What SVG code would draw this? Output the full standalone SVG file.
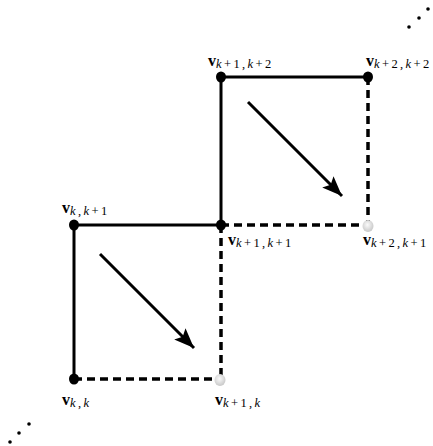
<svg xmlns="http://www.w3.org/2000/svg" width="433" height="446" viewBox="0 0 433 446">
<style>
.solid{stroke:#000;stroke-width:3;fill:none}
.dash{stroke:#000;stroke-width:3.5;fill:none;stroke-dasharray:8 5}
.arr{stroke:#000;stroke-width:3;fill:none}
.lbl{font-family:"Liberation Serif",serif;fill:#000}
.v{font-weight:bold;font-size:16px}
.s{font-size:12.5px;letter-spacing:2.4px}
.i{font-style:italic}
.bn{fill:#000}
.gn{fill:url(#g)}
.dot{fill:#000}
</style>
<defs>
<radialGradient id="g" cx="0.45" cy="0.4" r="0.6">
<stop offset="0" stop-color="#fafafa"/>
<stop offset="1" stop-color="#c8c8c8"/>
</radialGradient>
<marker id="ah" markerUnits="userSpaceOnUse" markerWidth="22" markerHeight="18" refX="20" refY="8" orient="auto">
<path d="M0,0 L20,8 L0,16 L4,8 z" fill="#000"/>
</marker>
</defs>
<g id="connectors">
<path class="solid" d="M74,379 V225 H221 V77 H368"/>
<path class="dash" d="M74,379 H220"/>
<path class="dash" d="M221,225 V380"/>
<path class="dash" d="M221,225 H368"/>
<path class="dash" d="M368,77 V226"/>
<path class="arr" d="M100,254 L194,348" marker-end="url(#ah)"/>
<path class="arr" d="M248,102 L342,196" marker-end="url(#ah)"/>
</g>
<g id="n-kk"><ellipse class="bn" cx="74" cy="379" rx="5" ry="5.5"/>
<text class="lbl" x="62" y="405"><tspan class="v">v</tspan><tspan class="s i" dy="2">k</tspan><tspan class="s" dy="0">,</tspan><tspan class="s i">k</tspan></text></g>
<g id="n-k1k"><ellipse class="gn" cx="220" cy="380" rx="5.5" ry="6"/>
<text class="lbl" x="215" y="405"><tspan class="v">v</tspan><tspan class="s i" dy="2">k</tspan><tspan class="s">+1,</tspan><tspan class="s i">k</tspan></text></g>
<g id="n-kk1"><ellipse class="bn" cx="74" cy="225" rx="5" ry="5.5"/>
<text class="lbl" x="62" y="213"><tspan class="v">v</tspan><tspan class="s i" dy="2">k</tspan><tspan class="s">,</tspan><tspan class="s i">k</tspan><tspan class="s">+1</tspan></text></g>
<g id="n-k1k1"><ellipse class="bn" cx="221" cy="225" rx="5" ry="5.5"/>
<text class="lbl" x="228" y="245"><tspan class="v">v</tspan><tspan class="s i" dy="2">k</tspan><tspan class="s">+1,</tspan><tspan class="s i">k</tspan><tspan class="s">+1</tspan></text></g>
<g id="n-k2k1"><ellipse class="gn" cx="368" cy="226" rx="5.5" ry="6"/>
<text class="lbl" x="363" y="245"><tspan class="v">v</tspan><tspan class="s i" dy="2">k</tspan><tspan class="s">+2,</tspan><tspan class="s i">k</tspan><tspan class="s">+1</tspan></text></g>
<g id="n-k1k2"><ellipse class="bn" cx="221" cy="77" rx="5" ry="5.5"/>
<text class="lbl" x="208" y="66"><tspan class="v">v</tspan><tspan class="s i" dy="2">k</tspan><tspan class="s">+1,</tspan><tspan class="s i">k</tspan><tspan class="s">+2</tspan></text></g>
<g id="n-k2k2"><ellipse class="bn" cx="368" cy="77" rx="5" ry="5.5"/>
<text class="lbl" x="366" y="66"><tspan class="v">v</tspan><tspan class="s i" dy="2">k</tspan><tspan class="s">+2,</tspan><tspan class="s i">k</tspan><tspan class="s">+2</tspan></text></g>
<g id="dots-tr"><circle class="dot" cx="409" cy="27" r="1.8"/><circle class="dot" cx="419" cy="18" r="1.8"/><circle class="dot" cx="428" cy="9" r="1.8"/></g>
<g id="dots-bl"><circle class="dot" cx="10" cy="442" r="1.8"/><circle class="dot" cx="19" cy="433" r="1.8"/><circle class="dot" cx="29" cy="424" r="1.8"/></g>
</svg>
